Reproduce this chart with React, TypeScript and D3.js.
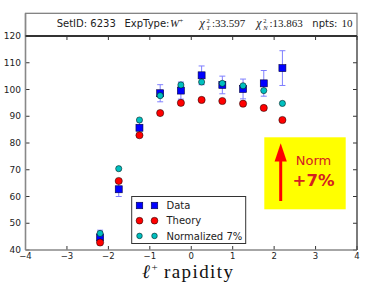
import React from "react";
import * as d3 from "d3";

const rapidity = [-2.2, -1.75, -1.25, -0.75, -0.25, 0.25, 0.75, 1.25, 1.75, 2.2];
const dataValues = [44.7, 62.7, 85.7, 98.6, 99.6, 105.3, 101.7, 100.2, 102.3, 108.0];
const dataErrors = [2.7, 2.7, 2.2, 3.2, 3.2, 3.5, 3.3, 3.7, 4.8, 6.5];
const theoryValues = [42.8, 65.8, 82.9, 91.2, 95.0, 96.1, 95.7, 94.7, 93.1, 88.6];
const normalizedValues = [46.2, 70.4, 88.6, 97.7, 101.7, 102.8, 102.3, 101.4, 99.6, 94.8];
const xTicks = [-4, -3, -2, -1, 0, 1, 2, 3, 4];
const yTicks = [40, 50, 60, 70, 80, 90, 100, 110, 120];
const legendLabels = ["Data", "Theory", "Normalized 7%"];

const W = 374;
const H = 284;
const left = 25.5;
const right = 357;
const top = 36;
const bottom = 250;

const BLUE = "#0000ff";
const RED = "#ff0000";
const CYAN = "#00bfbf";
const ERR = "#7f7fff";

export default function App() {
  const x = d3.scaleLinear().domain([-4, 4]).range([left, right]);
  const y = d3.scaleLinear().domain([40, 120]).range([bottom, top]);
  const sans = "DejaVu Sans, sans-serif";
  const serif = "Liberation Serif, DejaVu Serif, serif";

  const square = (cx: number, cy: number, key: string, s = 7) => (
    <rect key={key} x={cx - s / 2} y={cy - s / 2} width={s} height={s} fill={BLUE} stroke="#000040" strokeWidth={0.6} />
  );
  const circle = (cx: number, cy: number, fill: string, key: string, r = 3.6) => (
    <circle key={key} cx={cx} cy={cy} r={r} fill={fill} stroke="#000" strokeWidth={0.5} />
  );

  const ty = 27;
  return (
    <div style={{ position: "absolute", left: 0, top: 0 }}>
      <svg width={W} height={H} viewBox={`0 0 ${W} ${H}`} style={{ display: "block", background: "#fff" }}>
        {/* title box */}
        <rect x={left} y={13.3} width={right - left} height={top - 13.3} fill="#fff" stroke="#777" strokeWidth={1.2} />
        <g fill="#222">
          <text x={56.7} y={ty} fontSize={10} fontFamily={sans}>SetID: 6233</text>
          <text x={124.5} y={ty} fontSize={10} fontFamily={sans}>ExpType:</text>
          <text x={170} y={ty} fontSize={11} fontFamily={serif}>
            <tspan fontStyle="italic">W</tspan>
            <tspan fontSize={7} dy={-4}>+</tspan>
          </text>
          <text x={199.5} y={ty} fontSize={12} fontFamily={serif} fontStyle="italic">χ</text>
          <text x={206.5} y={ty - 4.5} fontSize={6.5} fontFamily={serif}>2</text>
          <text x={206.5} y={ty + 2.5} fontSize={6.5} fontFamily={serif} fontStyle="italic">T</text>
          <text x={212} y={ty} fontSize={11} fontFamily={serif}>:33.597</text>
          <text x={256.2} y={ty} fontSize={12} fontFamily={serif} fontStyle="italic">χ</text>
          <text x={263.2} y={ty - 4.5} fontSize={6.5} fontFamily={serif}>2</text>
          <text x={263.2} y={ty + 2.5} fontSize={6.5} fontFamily={serif} fontStyle="italic">N</text>
          <text x={269.5} y={ty} fontSize={11} fontFamily={serif}>:13.863</text>
          <text x={312.3} y={ty} fontSize={10} fontFamily={sans}>npts:</text>
          <text x={341.5} y={ty} fontSize={11} fontFamily={serif}>10</text>
        </g>

        {/* ticks */}
        {xTicks.map((t) => (
          <g key={"xt" + t}>
            <line x1={x(t)} x2={x(t)} y1={bottom} y2={bottom - 4} stroke="#000" strokeWidth={0.8} />
            <line x1={x(t)} x2={x(t)} y1={top} y2={top + 4} stroke="#000" strokeWidth={0.8} />
            <text x={x(t)} y={258.5} fontSize={8.5} fontFamily={sans} textAnchor="middle" fill="#222">
              {t < 0 ? "\u2212" + Math.abs(t) : String(t)}
            </text>
          </g>
        ))}
        {yTicks.map((t) => (
          <g key={"yt" + t}>
            <line x1={left} x2={left + 4} y1={y(t)} y2={y(t)} stroke="#000" strokeWidth={0.8} />
            <line x1={right} x2={right - 4} y1={y(t)} y2={y(t)} stroke="#000" strokeWidth={0.8} />
            <text x={21} y={y(t) + 3.2} fontSize={9} fontFamily={sans} textAnchor="end" fill="#222">
              {t}
            </text>
          </g>
        ))}

        {/* spines */}
        <line x1={left} x2={left} y1={13.3} y2={bottom} stroke="#888" strokeWidth={1.6} />
        <line x1={left} x2={right} y1={bottom} y2={bottom} stroke="#888" strokeWidth={1.6} />
        <line x1={right} x2={right} y1={top} y2={bottom} stroke="#444" strokeWidth={1.4} />
        <line x1={left} x2={right} y1={top} y2={top} stroke="#333" strokeWidth={2} />

        {/* error bars */}
        {rapidity.map((r, i) => (
          <g key={"e" + i} stroke={ERR} strokeWidth={1}>
            <line x1={x(r)} x2={x(r)} y1={y(dataValues[i] - dataErrors[i])} y2={y(dataValues[i] + dataErrors[i])} />
            <line x1={x(r) - 3} x2={x(r) + 3} y1={y(dataValues[i] - dataErrors[i])} y2={y(dataValues[i] - dataErrors[i])} />
            <line x1={x(r) - 3} x2={x(r) + 3} y1={y(dataValues[i] + dataErrors[i])} y2={y(dataValues[i] + dataErrors[i])} />
          </g>
        ))}
        {rapidity.map((r, i) => square(x(r), y(dataValues[i]), "d" + i))}
        {rapidity.map((r, i) => circle(x(r), y(theoryValues[i]), RED, "t" + i))}
        {rapidity.map((r, i) => circle(x(r), y(normalizedValues[i]), CYAN, "n" + i, 3.1))}

        {/* legend */}
        <rect x={131.7} y={196.5} width={114} height={47} fill="#fff" stroke="#333" strokeWidth={1} />
        {legendLabels.map((lab, i) => {
          const yy = 205.5 + i * 15.2;
          return (
            <g key={"l" + i}>
              {i === 0 && [square(139.5, yy, "l0a", 6.5), square(154.5, yy, "l0b", 6.5)]}
              {i === 1 && [circle(139.5, yy, RED, "l1a", 3.4), circle(154.5, yy, RED, "l1b", 3.4)]}
              {i === 2 && [circle(139.5, yy, CYAN, "l2a", 2.8), circle(154.5, yy, CYAN, "l2b", 2.8)]}
              <text x={166.5} y={yy + 3.6} fontSize={10} fontFamily={sans} fill="#222">
                {lab}
              </text>
            </g>
          );
        })}

        {/* norm box */}
        <rect x={264.3} y={137.3} width={81.4} height={72} fill="#ffff00" />
        <line x1={280.7} x2={280.7} y1={201} y2={158} stroke={RED} strokeWidth={3} />
        <path d={`M ${280.7} 143.3 L ${286.8} 161.5 L ${274.6} 161.5 Z`} fill={RED} />
        <text x={313.5} y={165} fontSize={13} fontFamily={sans} textAnchor="middle" fill="#d42020">
          Norm
        </text>
        <text x={313.5} y={185.5} fontSize={16.5} fontWeight="bold" fontFamily={sans} textAnchor="middle" fill="#d42020">
          +7%
        </text>

        {/* x label */}
        <text x={142} y={278} fontSize={19} fontFamily={serif} fill="#111">
          <tspan fontStyle="italic">ℓ</tspan>
        </text>
        <text x={151.5} y={271} fontSize={11} fontFamily={serif} fill="#111">+</text>
        <text x={164} y={278} fontSize={19} fontFamily={serif} fill="#111" textLength={69} lengthAdjust="spacing">
          rapidity
        </text>
      </svg>
    </div>
  );
}
